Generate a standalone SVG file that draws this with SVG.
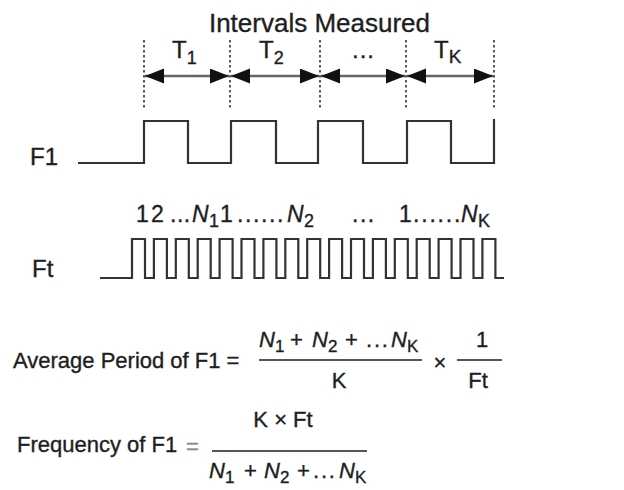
<svg xmlns="http://www.w3.org/2000/svg" width="624" height="490" viewBox="0 0 624 490">
<style>
text{font-family:"Liberation Sans",Arial,sans-serif;fill:#1e1e1e;stroke:#1e1e1e;stroke-width:0.35}
.t26{font-size:26px}.t24{font-size:24px}.t23{font-size:23px}.t22{font-size:22px}
.sub{font-size:17px}
.it{font-style:italic}
.wave{fill:none;stroke:#333;stroke-width:2.2;stroke-linejoin:miter}
.dash{stroke:#333;stroke-width:1.6;stroke-dasharray:2.5 2.5}
.arr{stroke:#666;stroke-width:2.6;marker-start:url(#ah);marker-end:url(#ah)}
.frac{stroke:#555;stroke-width:2}
</style>
<defs>
<marker id="ah" markerUnits="userSpaceOnUse" markerWidth="20" markerHeight="16" refX="19" refY="7.5" orient="auto-start-reverse">
<path d="M0,0 L19,7.5 L0,15 Z" fill="#111"/>
</marker>
</defs>
<rect width="624" height="490" fill="#fff"/>
<g id="title"><text class="t26" x="319.5" y="32" text-anchor="middle">Intervals Measured</text></g>
<g id="guides">
<line class="dash" x1="144" y1="40" x2="144" y2="110"/>
<line class="dash" x1="230" y1="40" x2="230" y2="110"/>
<line class="dash" x1="320" y1="40" x2="320" y2="110"/>
<line class="dash" x1="406" y1="40" x2="406" y2="110"/>
<line class="dash" x1="494" y1="40" x2="494" y2="110"/>
</g>
<g id="connectors">
<line class="arr" x1="145" y1="76" x2="229" y2="76"/>
<line class="arr" x1="231" y1="76" x2="319" y2="76"/>
<line class="arr" x1="321" y1="76" x2="405" y2="76"/>
<line class="arr" x1="407" y1="76" x2="493" y2="76"/>
</g>
<g id="interval-labels">
<text class="t24" x="172" y="58">T<tspan font-size="18" dy="6">1</tspan></text>
<text class="t24" x="259" y="58">T<tspan font-size="18" dy="6">2</tspan></text>
<text class="t24" x="352" y="58" letter-spacing="1">...</text>
<text class="t24" x="434" y="58">T<tspan font-size="19" dy="5">K</tspan></text>
</g>
<g id="F1">
<text class="t24" x="30" y="165">F1</text>
<path class="wave" d="M78,163 H144 V121 H188 V163 H231 V121 H276 V163 H318 V121 H363 V163 H407 V121 H451 V163 H494 V119"/>
</g>
<g id="counts">
<text class="t23" y="222"><tspan x="136">1</tspan><tspan x="151">2</tspan><tspan x="170" letter-spacing="0.5">...</tspan><tspan x="192" class="it">N</tspan><tspan x="209" font-size="18" dy="5">1</tspan><tspan x="220" dy="-5">1</tspan><tspan x="237" letter-spacing="1.6">......</tspan><tspan x="287" class="it">N</tspan><tspan x="304" font-size="18" dy="5">2</tspan><tspan x="352" dy="-5" letter-spacing="1.5">...</tspan><tspan x="399">1</tspan><tspan x="413" letter-spacing="1.8">......</tspan><tspan x="461" class="it">N</tspan><tspan x="478" font-size="18" dy="5">K</tspan></text>
</g>
<g id="Ft">
<text class="t24" x="32" y="277">Ft</text>
<path class="wave" d="M100,278 H132 V239 H145 V278 H153.9 V239 H166.9 V278 H175.8 V239 H188.8 V278 H197.7 V239 H210.7 V278 H219.6 V239 H232.6 V278 H241.5 V239 H254.5 V278 H263.4 V239 H276.4 V278 H285.3 V239 H298.3 V278 H307.2 V239 H320.2 V278 H329.1 V239 H342.1 V278 H351 V239 H364 V278 H372.9 V239 H385.9 V278 H394.8 V239 H407.8 V278 H416.7 V239 H429.7 V278 H438.6 V239 H451.6 V278 H460.5 V239 H473.5 V278 H482.4 V239 H495.4 V278 H504"/>
</g>
<g id="formula-period">
<text class="t22" x="13" y="368">Average Period of F1 =</text>
<text class="t22" y="347"><tspan x="259" class="it">N</tspan><tspan x="275" class="sub" dy="5">1</tspan><tspan x="290" dy="-5">+</tspan><tspan x="312" class="it">N</tspan><tspan x="328" class="sub" dy="5">2</tspan><tspan x="345" dy="-5">+</tspan><tspan x="366" letter-spacing="1.8">...</tspan><tspan x="391" class="it">N</tspan><tspan x="407" class="sub" dy="5">K</tspan></text>
<line class="frac" x1="259" y1="360" x2="422" y2="360"/>
<text class="t22" x="339" y="388" text-anchor="middle">K</text>
<text class="t22" x="440" y="370" text-anchor="middle">×</text>
<text class="t22" x="482" y="347" text-anchor="middle">1</text>
<line class="frac" x1="457" y1="360" x2="502" y2="360"/>
<text class="t22" x="478" y="388" text-anchor="middle">Ft</text>
</g>
<g id="formula-frequency">
<text class="t22" x="17" y="452">Frequency of F1</text>
<text class="t22" x="186" y="454" style="fill:#888;stroke:#888">=</text>
<text class="t22" x="283" y="427" text-anchor="middle">K × Ft</text>
<line class="frac" x1="212" y1="451" x2="367" y2="451"/>
<text class="t22" y="478"><tspan x="209" class="it">N</tspan><tspan x="225" class="sub" dy="5">1</tspan><tspan x="244" dy="-5">+</tspan><tspan x="264" class="it">N</tspan><tspan x="280" class="sub" dy="5">2</tspan><tspan x="297" dy="-5">+</tspan><tspan x="313" letter-spacing="1.8">...</tspan><tspan x="339" class="it">N</tspan><tspan x="355" class="sub" dy="5">K</tspan></text>
</g>
</svg>
